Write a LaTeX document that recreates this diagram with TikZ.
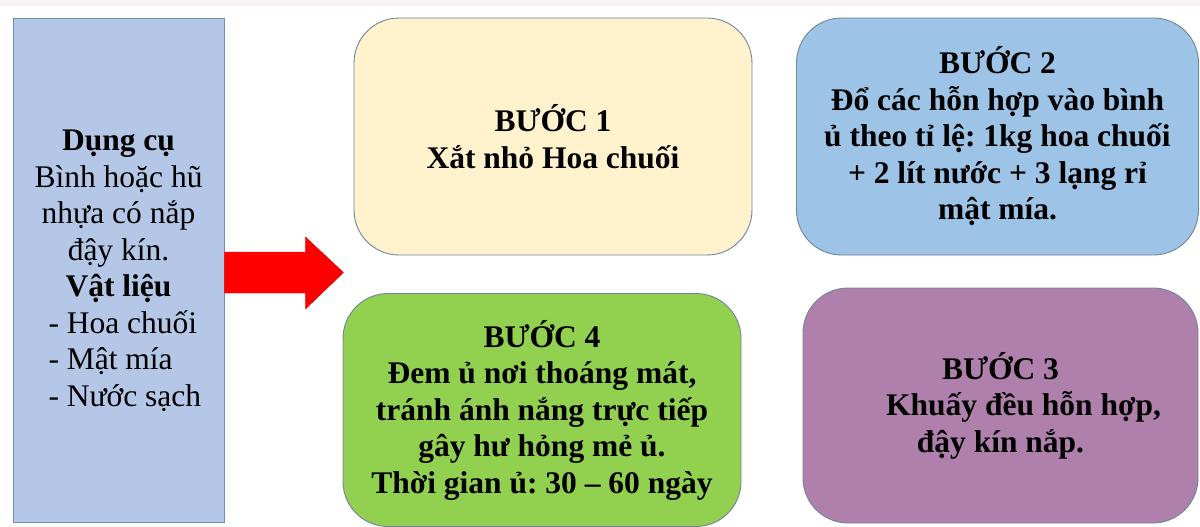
\documentclass[tikz,border=0pt]{standalone}
\usepackage{fontspec}
\setmainfont{Liberation Serif}
\frenchspacing
\definecolor{toolfill}{HTML}{B4C7E7}
\definecolor{toolline}{HTML}{6F8DBA}
\definecolor{stepline}{HTML}{70849C}
\definecolor{cream}{HTML}{FFF2CC}
\definecolor{skyblue}{HTML}{9DC3E6}
\definecolor{leaf}{HTML}{92D050}
\definecolor{plum}{HTML}{AE80AB}
\definecolor{haze}{HTML}{FBF3F3}
\tikzset{
  every node/.style={font=\fontsize{31.5}{36.5}\selectfont},
  stepbox/.style={draw=stepline, line width=0.9pt, rounded corners=45pt,
    align=center, inner sep=0pt, font=\fontsize{31.5}{36.5}\selectfont\bfseries},
  toolbox/.style={draw=toolline, fill=toolfill, line width=0.9pt, inner sep=0pt},
  bigarrow/.style={fill=red, draw=red!90!black, line width=0.4pt, line join=miter}
}
\begin{document}
\begin{tikzpicture}[x=1pt,y=-1pt]
\useasboundingbox (0,0) rectangle (1200,527);
\fill[haze] (0,0) rectangle (1200,6);
% materials column
\node[toolbox, minimum width=211pt, minimum height=504pt] (tools) at (118.5,270) {};
\node[align=center, inner sep=0pt] (toolstext) at (118.5,271) {%
  \textbf{Dụng cụ}\\
  Bình hoặc hũ\\
  nhựa có nắp\\
  đậy kín.\\
  \textbf{Vật liệu}\\
  \makebox[140pt][l]{- Hoa chuối}\\
  \makebox[140pt][l]{- Mật mía}\\
  \makebox[140pt][l]{- Nước sạch}};
% the four steps
\node[stepbox, fill=cream, minimum width=398pt, minimum height=237pt] (s1) at (553,136.5)
  {BƯỚC 1\\ Xắt nhỏ Hoa chuối};
\node[stepbox, fill=skyblue, minimum width=402pt, minimum height=237pt] (s2) at (997.5,136.5)
  {BƯỚC 2\\ Đổ các hỗn hợp vào bình\\ ủ theo tỉ lệ: 1kg hoa chuối\\ + 2 lít nước + 3 lạng rỉ\\ mật mía.};
\node[stepbox, fill=plum, minimum width=395pt, minimum height=235pt] (s3) at (1000.5,405.5)
  {BƯỚC 3\\ \hspace*{46pt}Khuấy đều hỗn hợp,\\ đậy kín nắp.};
\node[stepbox, fill=leaf, minimum width=398pt, minimum height=233pt] (s4) at (542,410)
  {BƯỚC 4\\ Đem ủ nơi thoáng mát,\\ tránh ánh nắng trực tiếp\\ gây hư hỏng mẻ ủ.\\ Thời gian ủ: 30 – 60 ngày};
% block arrow leaving the materials column
\coordinate (go) at (tools.east |- 0,272.5);
\draw[bigarrow] (go) ++(0,-20.5) -- ++(81,0) -- ++(0,-15) -- ++(38,35.5)
  -- ++(-38,36.5) -- ++(0,-16) -- ++(-81,0) -- cycle;
\end{tikzpicture}
\end{document}
